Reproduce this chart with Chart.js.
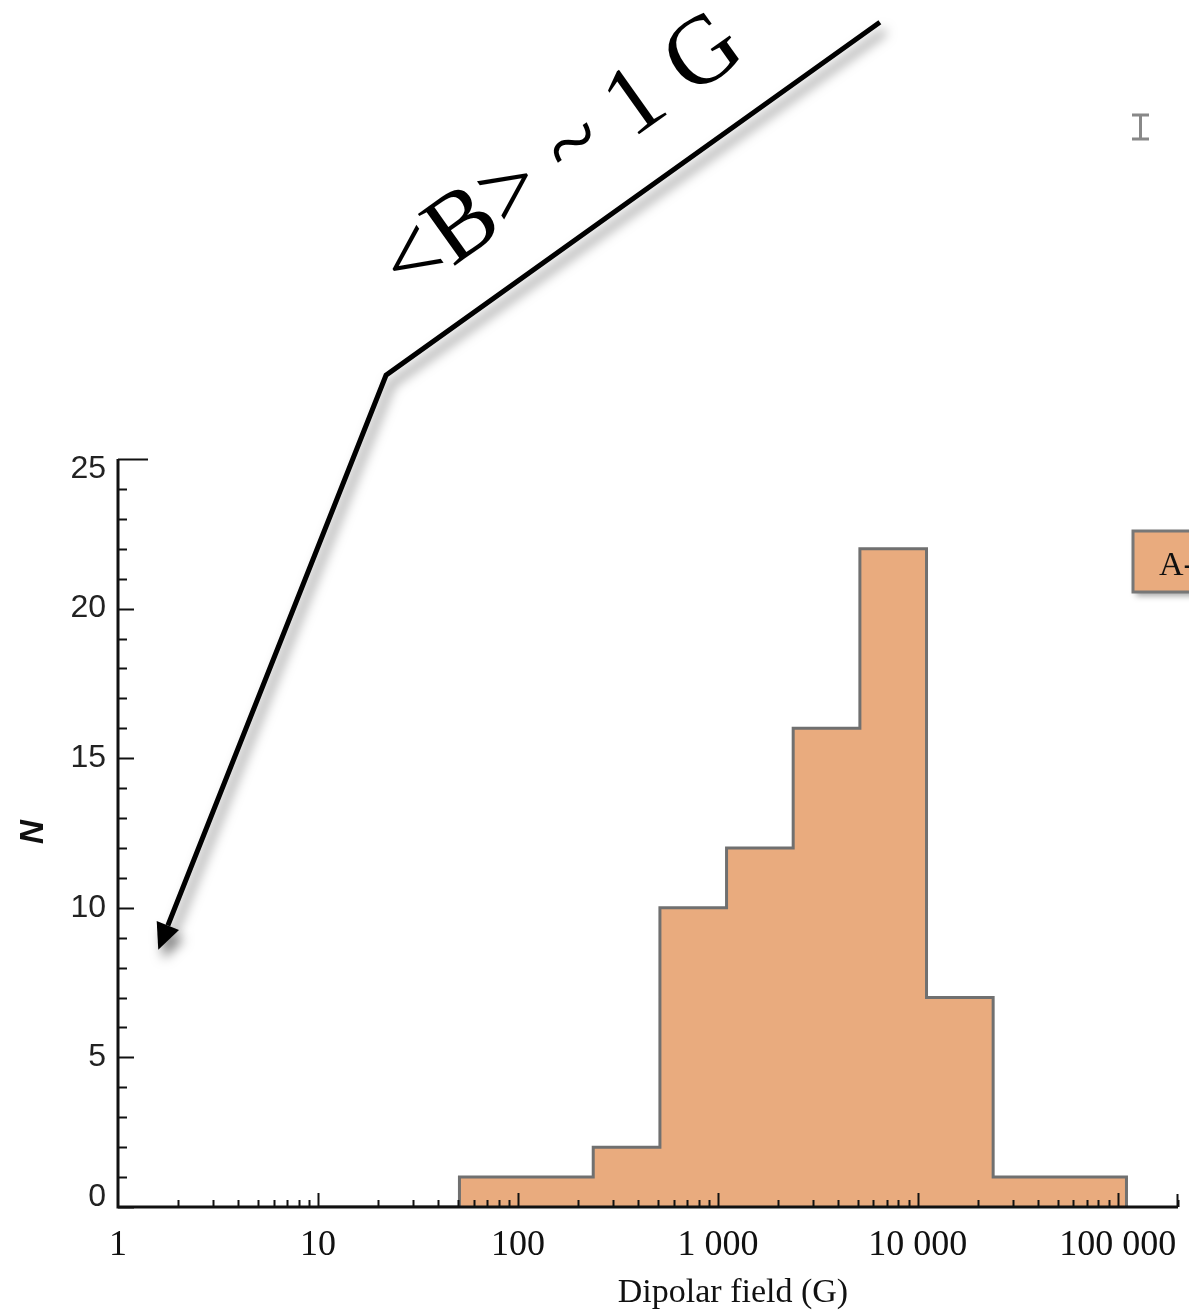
<!DOCTYPE html>
<html>
<head>
<meta charset="utf-8">
<script src="https://cdn.jsdelivr.net/npm/chart.js@4.4.1/dist/chart.umd.min.js"></script>
<style>
  html, body { margin: 0; padding: 0; background: #fff; }
  canvas { display: block; }
</style>
</head>
<body>
<canvas id="fieldHist" width="1189" height="1312"></canvas>
<script>
// histogram of dipolar field strengths, 1/3-decade bins
const binEdges = [51, 110, 238, 513, 1105, 2380, 5130, 11050, 23800, 51300, 110500];
const starCounts = [1, 1, 2, 10, 12, 16, 22, 7, 1, 1];

const xMajorTicks = [1, 10, 100, 1000, 10000, 100000];
const xTickLabels = ['1', '10', '100', '1 000', '10 000', '100 000'];
const yMajorTicks = [0, 5, 10, 15, 20, 25];

// annotation arrow, in data units (field, N)
const arrowPath = [
  { x: 6457, y: 39.6 },
  { x: 21.9, y: 27.8 },
  { x: 1.59, y: 8.6 },
];
const arrowLabel = { text: '<B> ~ 1 G', x: 28.2, y: 30.35 };

// step outline: each point holds its count until the next edge
const histPoints = [{ x: 10, y: 0 }];
starCounts.forEach((n, i) => histPoints.push({ x: binEdges[i], y: n }));
histPoints.push({ x: binEdges[binEdges.length - 1], y: 0 });

const fillColor = '#e9ab7e';
const edgeColor = '#707070';

const framePlugin = {
  id: 'frame',
  afterDatasetsDraw(chart) {
    const { ctx, chartArea: a, scales: { x, y } } = chart;
    ctx.save();
    ctx.strokeStyle = '#111';
    ctx.fillStyle = '#222';

    // y axis minor / major ticks (inside)
    ctx.lineWidth = 2;
    for (let v = 0; v <= 25; v++) {
      const py = Math.round(y.getPixelForValue(v)) + 0.5;
      const len = v === 25 ? 30 : (v % 5 === 0 ? 16 : 9);
      ctx.beginPath();
      ctx.moveTo(a.left, py);
      ctx.lineTo(a.left + len, py);
      ctx.stroke();
    }

    // x axis ticks (upward)
    xMajorTicks.forEach(t => {
      for (let m = 2; m <= 9; m++) {
        const v = t * m;
        if (v > x.max) continue;
        const px = Math.round(x.getPixelForValue(v)) + 0.5;
        ctx.beginPath();
        ctx.moveTo(px, a.bottom);
        ctx.lineTo(px, a.bottom - 7);
        ctx.stroke();
      }
      if (t > 1) {
        const px = Math.round(x.getPixelForValue(t)) + 0.5;
        ctx.beginPath();
        ctx.moveTo(px, a.bottom);
        ctx.lineTo(px, a.bottom - 14);
        ctx.stroke();
      }
    });
    const endX = Math.round(a.right) - 0.5;
    ctx.beginPath();
    ctx.moveTo(endX, a.bottom);
    ctx.lineTo(endX, a.bottom - 13);
    ctx.stroke();

    // axis lines
    ctx.lineWidth = 3;
    ctx.beginPath();
    ctx.moveTo(a.left, a.top);
    ctx.lineTo(a.left, a.bottom);
    ctx.lineTo(a.right, a.bottom);
    ctx.stroke();

    // y tick labels
    ctx.font = '32px "Liberation Sans", sans-serif';
    ctx.textAlign = 'right';
    ctx.textBaseline = 'middle';
    yMajorTicks.forEach(v => {
      let py = y.getPixelForValue(v);
      py = Math.min(Math.max(py, a.top + 10), a.bottom - 10);
      ctx.fillText(String(v), 106, py);
    });

    // x tick labels
    ctx.fillStyle = '#111';
    ctx.font = '36px "Liberation Serif", serif';
    ctx.textAlign = 'center';
    ctx.textBaseline = 'alphabetic';
    xMajorTicks.forEach((t, i) => {
      ctx.fillText(xTickLabels[i], x.getPixelForValue(t), 1255);
    });

    // axis titles
    ctx.font = '34px "Liberation Serif", serif';
    ctx.fillText('Dipolar field (G)', 733, 1302);

    ctx.save();
    ctx.translate(43, 832);
    ctx.rotate(-Math.PI / 2);
    ctx.font = 'italic bold 33px "Liberation Sans", sans-serif';
    ctx.textAlign = 'center';
    ctx.fillText('N', 0, 0);
    ctx.restore();

    ctx.restore();
  },
  afterDraw(chart) {
    const { ctx, scales: { x, y } } = chart;
    const pts = arrowPath.map(p => ({ x: x.getPixelForValue(p.x), y: y.getPixelForValue(p.y) }));
    const tip = pts[pts.length - 1];
    const prev = pts[pts.length - 2];
    const ang = Math.atan2(tip.y - prev.y, tip.x - prev.x);
    const headLen = 26, headHalf = 12;
    const base = { x: tip.x - headLen * Math.cos(ang), y: tip.y - headLen * Math.sin(ang) };

    ctx.save();
    ctx.shadowColor = 'rgba(0,0,0,0.5)';
    ctx.shadowBlur = 12;
    ctx.shadowOffsetX = 5;
    ctx.shadowOffsetY = 9;
    ctx.strokeStyle = '#000';
    ctx.fillStyle = '#000';
    ctx.lineWidth = 5;
    ctx.lineJoin = 'miter';
    ctx.beginPath();
    ctx.moveTo(pts[0].x, pts[0].y);
    for (let i = 1; i < pts.length - 1; i++) ctx.lineTo(pts[i].x, pts[i].y);
    ctx.lineTo(base.x, base.y);
    ctx.stroke();
    ctx.beginPath();
    ctx.moveTo(tip.x, tip.y);
    ctx.lineTo(base.x + headHalf * Math.sin(ang), base.y - headHalf * Math.cos(ang));
    ctx.lineTo(base.x - headHalf * Math.sin(ang), base.y + headHalf * Math.cos(ang));
    ctx.closePath();
    ctx.fill();
    ctx.restore();

    // label along the arrow
    ctx.save();
    ctx.translate(x.getPixelForValue(arrowLabel.x), y.getPixelForValue(arrowLabel.y));
    ctx.rotate(-35.5 * Math.PI / 180);
    ctx.font = '97px "Liberation Serif", serif';
    ctx.fillStyle = '#000';
    ctx.textAlign = 'left';
    ctx.textBaseline = 'alphabetic';
    ctx.fillText(arrowLabel.text, 0, 0);
    ctx.restore();

    // legend box at the right edge
    const ds = chart.data.datasets[0];
    ctx.save();
    ctx.shadowColor = 'rgba(0,0,0,0.35)';
    ctx.shadowBlur = 6;
    ctx.shadowOffsetX = 3;
    ctx.shadowOffsetY = 4;
    ctx.fillStyle = ds.backgroundColor;
    ctx.fillRect(1133, 531, 120, 61);
    ctx.shadowColor = 'transparent';
    ctx.strokeStyle = '#777';
    ctx.lineWidth = 3;
    ctx.strokeRect(1133, 531, 120, 61);
    ctx.fillStyle = '#111';
    ctx.font = '34px "Liberation Serif", serif';
    ctx.textBaseline = 'alphabetic';
    ctx.fillText(ds.label, 1159, 575);
    ctx.restore();

    // small I-beam marker at top right
    ctx.save();
    ctx.strokeStyle = '#888';
    ctx.lineWidth = 3;
    ctx.beginPath();
    ctx.moveTo(1132, 115); ctx.lineTo(1149, 115);
    ctx.moveTo(1140.5, 115); ctx.lineTo(1140.5, 139);
    ctx.moveTo(1132, 139); ctx.lineTo(1149, 139);
    ctx.stroke();
    ctx.restore();
  },
};

const ctx = document.getElementById('fieldHist').getContext('2d');
new Chart(ctx, {
  type: 'line',
  data: {
    datasets: [
      {
        label: 'A-stars',
        data: histPoints,
        stepped: 'before',
        fill: 'origin',
        backgroundColor: fillColor,
        borderColor: edgeColor,
        borderWidth: 3,
        pointRadius: 0,
      },
    ],
  },
  options: {
    responsive: false,
    animation: false,
    devicePixelRatio: 1,
    layout: { padding: { left: 118, top: 459, right: 11, bottom: 105 } },
    scales: {
      x: { type: 'logarithmic', min: 1, max: 200000, display: false },
      y: { type: 'linear', min: 0, max: 25, display: false },
    },
    plugins: {
      legend: { display: false },
      tooltip: { enabled: false },
    },
  },
  plugins: [framePlugin],
});
</script>
</body>
</html>
